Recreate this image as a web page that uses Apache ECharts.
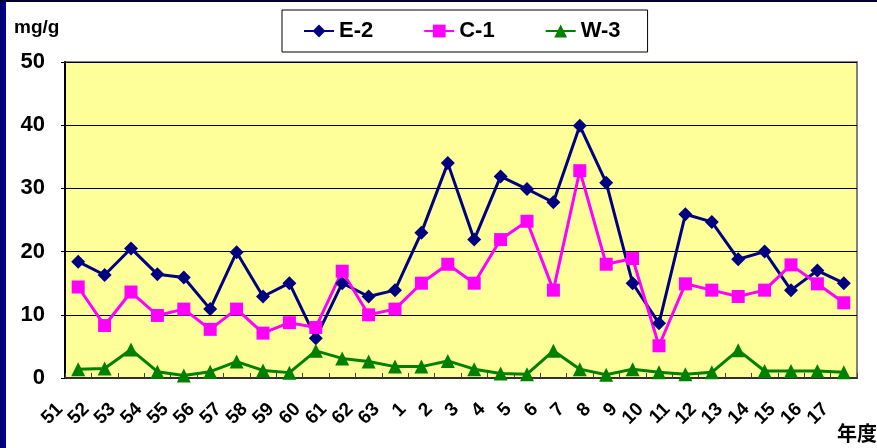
<!DOCTYPE html>
<html>
<head>
<meta charset="utf-8">
<script src="https://cdn.jsdelivr.net/npm/echarts@6/dist/echarts.min.js"></script>
<style>
  html, body { margin: 0; padding: 0; background: #ffffff; }
  #wrap { position: relative; width: 877px; height: 448px; overflow: hidden; }
  #chart { position: absolute; left: 0; top: 0; width: 877px; height: 448px; }
  #bl { position: absolute; left: 0; top: 0; width: 6px; height: 448px; background: linear-gradient(to right, #000066, #0000a0); }
  #bt { position: absolute; left: 0; top: 0; width: 877px; height: 2px; background: #000033; }
</style>
</head>
<body>
<div id="wrap">
  <div id="chart"></div>
  <div id="bl"></div>
  <div id="bt"></div>
</div>
<script>
const categories = ['51','52','53','54','55','56','57','58','59','60','61','62','63',
  '1','2','3','4','5','6','7','8','9','10','11','12','13','14','15','16','17'];
const e2 = [18.4,16.3,20.5,16.4,15.9,10.9,19.9,12.9,15.0,6.3,15.0,12.9,13.9,
  23.0,34.0,21.9,31.9,29.9,27.8,39.9,30.9,15.0,8.65,25.9,24.7,18.8,20.0,13.9,17.0,15.0];
const c1 = [14.4,8.3,13.6,9.9,10.9,7.7,10.9,7.1,8.75,8.0,16.9,10.0,10.9,
  15.0,18.0,15.0,21.9,24.8,13.9,32.8,18.0,18.9,5.1,14.9,13.9,12.9,13.9,17.9,14.9,11.9];
const w3 = [1.4,1.5,4.5,1.0,0.4,1.0,2.6,1.2,0.85,4.3,3.1,2.6,1.8,
  1.8,2.7,1.4,0.7,0.6,4.3,1.4,0.5,1.4,0.9,0.6,0.9,4.4,1.1,1.1,1.1,0.9];
const yTicks = [0, 10, 20, 30, 40, 50];

const chart = echarts.init(document.getElementById('chart'), null, { renderer: 'canvas' });
const FONT = '"Liberation Sans", Arial, sans-serif';
chart.setOption({
  animation: false,
  backgroundColor: 'transparent',
  title: [
    { text: 'mg/g', left: 9, top: 13, textStyle: { fontSize: 19, fontWeight: 'bold', color: '#000', fontFamily: FONT } },
    { text: '年度', left: 832, top: 418, textStyle: { fontSize: 20, fontWeight: 'bold', color: '#000', fontFamily: '"Noto Sans CJK JP", sans-serif' } }
  ],
  legend: {
    left: 282, top: 10,
    padding: [10, 27, 10, 21],
    itemGap: 50,
    itemWidth: 30, itemHeight: 16,
    backgroundColor: '#ffffff',
    borderColor: '#000000', borderWidth: 1,
    textStyle: { fontSize: 22, fontWeight: 'bold', color: '#000', fontFamily: FONT },
    data: ['E-2', 'C-1', 'W-3']
  },
  grid: {
    left: 65, right: 20, top: 62, bottom: 70,
    show: true, backgroundColor: '#FFFF99',
    borderColor: '#808080', borderWidth: 2
  },
  xAxis: {
    type: 'category',
    data: categories,
    boundaryGap: true,
    axisLine: { show: true, lineStyle: { color: '#303030', width: 2 } },
    axisTick: { show: true, inside: true, length: 5, lineStyle: { color: '#404040', width: 1 } },
    axisLabel: {
      interval: 0, rotate: 45, margin: 10,
      padding: [0, 26, 0, 0],
      fontSize: 19, fontWeight: 'bold', color: '#000', fontFamily: FONT
    },
    splitLine: { show: false }
  },
  yAxis: {
    type: 'value',
    min: yTicks[0], max: yTicks[yTicks.length - 1], interval: 10,
    axisLine: { show: true, lineStyle: { color: '#000', width: 2 } },
    axisTick: { show: true, length: 4, lineStyle: { color: '#000' } },
    axisLabel: { margin: 20, fontSize: 22, fontWeight: 'bold', color: '#000', fontFamily: FONT },
    splitLine: { show: true, lineStyle: { color: '#000', width: 1 } }
  },
  series: [
    { name: 'E-2', type: 'line', data: e2, symbol: 'diamond', symbolSize: 14,
      itemStyle: { color: '#000080' }, lineStyle: { color: '#000080', width: 3 } },
    { name: 'C-1', type: 'line', data: c1, symbol: 'rect', symbolSize: 13,
      itemStyle: { color: '#FF00FF' }, lineStyle: { color: '#FF00FF', width: 3 } },
    { name: 'W-3', type: 'line', data: w3, symbol: 'triangle', symbolSize: 14,
      itemStyle: { color: '#008000' }, lineStyle: { color: '#008000', width: 3 } }
  ]
});
</script>
</body>
</html>
